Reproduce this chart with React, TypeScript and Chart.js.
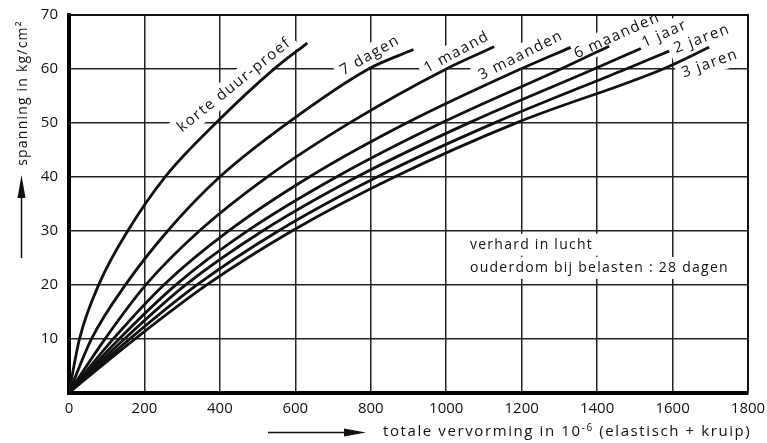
import React, { useEffect, useRef } from "react";
import { Chart, registerables } from "chart.js";

Chart.register(...registerables);

// ---- data (strain in 10^-6 at a given stress in kg/cm2) ----
const seriesNames = ["korte duur-proef", "7 dagen", "1 maand", "3 maanden", "6 maanden", "1 jaar", "2 jaren", "3 jaren"];

const korteStrain = [0, 28, 79, 156, 255, 390, 544, 632];
const korteStress = [0, 10, 20, 30, 40, 50, 60, 64.8];

const dagen7Strain = [0, 60, 150, 262, 400, 580, 794, 913];
const dagen7Stress = [0, 10, 20, 30, 40, 50, 60, 63.6];

const maand1Strain = [0, 96, 204, 346, 526, 744, 1000, 1127];
const maand1Stress = [0, 10, 20, 30, 40, 50, 60, 64.1];

const maanden3Strain = [0, 118, 252, 424, 638, 896, 1198, 1330];
const maanden3Stress = [0, 10, 20, 30, 40, 50, 60, 64.0];

const maanden6Strain = [0, 134, 284, 474, 710, 988, 1304, 1432];
const maanden6Stress = [0, 10, 20, 30, 40, 50, 60, 64.2];

const jaar1Strain = [0, 148, 310, 514, 764, 1060, 1392, 1516];
const jaar1Stress = [0, 10, 20, 30, 40, 50, 60, 63.8];

const jaren2Strain = [0, 162, 340, 556, 818, 1128, 1477, 1591];
const jaren2Stress = [0, 10, 20, 30, 40, 50, 60, 63.3];

const jaren3Strain = [0, 176, 366, 592, 864, 1186, 1575, 1697];
const jaren3Stress = [0, 10, 20, 30, 40, 50, 60, 64.0];

const allStrain = [korteStrain, dagen7Strain, maand1Strain, maanden3Strain, maanden6Strain, jaar1Strain, jaren2Strain, jaren3Strain];
const allStress = [korteStress, dagen7Stress, maand1Stress, maanden3Stress, maanden6Stress, jaar1Stress, jaren2Stress, jaren3Stress];

const xTickMin = 0;
const xTickMax = 1800;
const xTickStep = 200;
const yTickMin = 0;
const yTickMax = 70;
const yTickStep = 10;

const yTitle = "spanning in kg/cm²";
const xTitleA = "totale vervorming in 10";
const xTitleSup = "-6";
const xTitleB = " (elastisch + kruip)";
const noteLines = ["verhard in lucht", "ouderdom bij belasten : 28 dagen"];

// label anchors (data coordinates) and rotation for the curve names
const curveLabelX = [438, 798, 1028, 1198, 1453, 1579, 1678, 1699];
const curveLabelY = [57, 62.5, 63.1, 62.5, 66.2, 66.5, 65.6, 61];
const curveLabelAngle = [-38.8, -29.8, -28.4, -26.6, -24.5, -24, -20.6, -20];
const noteX = 1063;
const noteY = [27.4, 23.1];

const INK = "#111";
const FONT = "'Open Sans', 'DejaVu Sans', sans-serif";

const overlay = {
  id: "overlay",
  beforeDatasetsDraw(chart: any) {
    const { ctx, chartArea: a, scales } = chart;
    const xs = scales.x;
    const ys = scales.y;
    ctx.save();
    ctx.fillStyle = "#fff";
    ctx.font = `15px ${FONT}`;
    (ctx as any).letterSpacing = "1.5px";
    seriesNames.forEach((name, i) => {
      const px = xs.getPixelForValue(curveLabelX[i]);
      const py = ys.getPixelForValue(curveLabelY[i]);
      const w = ctx.measureText(name).width;
      ctx.save();
      ctx.translate(px, py);
      ctx.rotate((curveLabelAngle[i] * Math.PI) / 180);
      ctx.fillRect(-w / 2 - 5, -11, w + 10, 22);
      ctx.restore();
    });
    ctx.font = `14px ${FONT}`;
    (ctx as any).letterSpacing = "1.25px";
    noteLines.forEach((t, i) => {
      const px = xs.getPixelForValue(noteX);
      const py = ys.getPixelForValue(noteY[i]);
      const w = ctx.measureText(t).width;
      ctx.fillRect(px - 6, py - 11, w + 12, 22);
    });
    // thin top and right frame
    ctx.strokeStyle = INK;
    ctx.lineWidth = 2;
    ctx.beginPath();
    ctx.moveTo(a.left, a.top);
    ctx.lineTo(a.right, a.top);
    ctx.lineTo(a.right, a.bottom);
    ctx.stroke();
    ctx.restore();
  },
  afterDatasetsDraw(chart: any) {
    const { ctx, scales } = chart;
    const xs = scales.x;
    const ys = scales.y;
    ctx.save();
    ctx.fillStyle = INK;
    ctx.textBaseline = "middle";
    ctx.font = `15px ${FONT}`;
    (ctx as any).letterSpacing = "1.5px";
    ctx.textAlign = "center";
    seriesNames.forEach((name, i) => {
      const px = xs.getPixelForValue(curveLabelX[i]);
      const py = ys.getPixelForValue(curveLabelY[i]);
      ctx.save();
      ctx.translate(px, py);
      ctx.rotate((curveLabelAngle[i] * Math.PI) / 180);
      ctx.fillText(name, 0, 0);
      ctx.restore();
    });
    // note
    ctx.textAlign = "left";
    ctx.font = `14px ${FONT}`;
    (ctx as any).letterSpacing = "1.25px";
    noteLines.forEach((t, i) => {
      ctx.fillText(t, xs.getPixelForValue(noteX), ys.getPixelForValue(noteY[i]));
    });
    // x title
    ctx.textBaseline = "alphabetic";
    (ctx as any).letterSpacing = "1.6px";
    let tx = 383;
    const ty = 436;
    ctx.font = `15px ${FONT}`;
    ctx.fillText(xTitleA, tx, ty);
    tx += ctx.measureText(xTitleA).width;
    ctx.font = `10px ${FONT}`;
    ctx.fillText(xTitleSup, tx, ty - 5);
    tx += ctx.measureText(xTitleSup).width;
    ctx.font = `15px ${FONT}`;
    ctx.fillText(xTitleB, tx, ty);
    // x arrow
    ctx.strokeStyle = INK;
    ctx.lineWidth = 1.5;
    ctx.beginPath();
    ctx.moveTo(268, 432.5);
    ctx.lineTo(350, 432.5);
    ctx.stroke();
    ctx.beginPath();
    ctx.moveTo(366, 432.5);
    ctx.lineTo(344, 428.5);
    ctx.lineTo(344, 436.5);
    ctx.closePath();
    ctx.fill();
    // y title
    ctx.save();
    ctx.translate(23, 93);
    ctx.rotate(-Math.PI / 2);
    ctx.textAlign = "center";
    ctx.textBaseline = "middle";
    ctx.font = `14px ${FONT}`;
    (ctx as any).letterSpacing = "1.2px";
    ctx.fillText(yTitle, 0, 0);
    ctx.restore();
    // y arrow
    ctx.beginPath();
    ctx.moveTo(21.5, 258);
    ctx.lineTo(21.5, 190);
    ctx.stroke();
    ctx.beginPath();
    ctx.moveTo(21.5, 175);
    ctx.lineTo(17.5, 198);
    ctx.lineTo(25.5, 198);
    ctx.closePath();
    ctx.fill();
    ctx.restore();
  },
};

export default function App() {
  const ref = useRef<HTMLCanvasElement>(null);
  useEffect(() => {
    if (!ref.current) return;
    const datasets = seriesNames.map((name, i) => ({
      label: name,
      data: allStrain[i].map((x, j) => ({ x, y: allStress[i][j] })),
      borderColor: INK,
      borderWidth: 2.8,
      pointRadius: 0,
      fill: false,
      cubicInterpolationMode: "monotone" as const,
    }));
    const chart = new Chart(ref.current, {
      type: "line",
      data: { datasets },
      plugins: [overlay],
      options: {
        animation: false,
        responsive: false,
        devicePixelRatio: 1,
        layout: { padding: { top: 15, right: 19, left: 0, bottom: 0 } },
        plugins: { legend: { display: false }, tooltip: { enabled: false } },
        scales: {
          x: {
            type: "linear",
            min: xTickMin,
            max: xTickMax,
            afterFit: (s: any) => {
              s.height = 50.5;
              s.paddingRight = 0;
              s.paddingLeft = 0;
            },
            ticks: {
              stepSize: xTickStep,
              autoSkip: false,
              maxRotation: 0,
              padding: 7,
              color: INK,
              font: { family: FONT, size: 15 },
              callback: (v: any) => String(v),
            },
            grid: { color: "#222", lineWidth: 1.5, drawTicks: false },
            border: { color: "#000", width: 4 },
          },
          y: {
            type: "linear",
            min: yTickMin,
            max: yTickMax,
            afterFit: (s: any) => {
              s.width = 69;
              s.paddingTop = 0;
              s.paddingBottom = 0;
            },
            ticks: {
              stepSize: yTickStep,
              padding: 11,
              color: INK,
              font: { family: FONT, size: 15 },
              callback: (v: any) => (v === 0 ? "" : String(v)),
            },
            grid: { color: "#222", lineWidth: 1.5, drawTicks: false },
            border: { color: "#000", width: 4 },
          },
        },
      },
    });
    return () => chart.destroy();
  }, []);
  return (
    <div style={{ position: "absolute", left: 0, top: 0, width: 767, height: 443, background: "#fff" }}>
      <canvas ref={ref} width={767} height={443} style={{ display: "block", width: 767, height: 443 }} />
    </div>
  );
}
